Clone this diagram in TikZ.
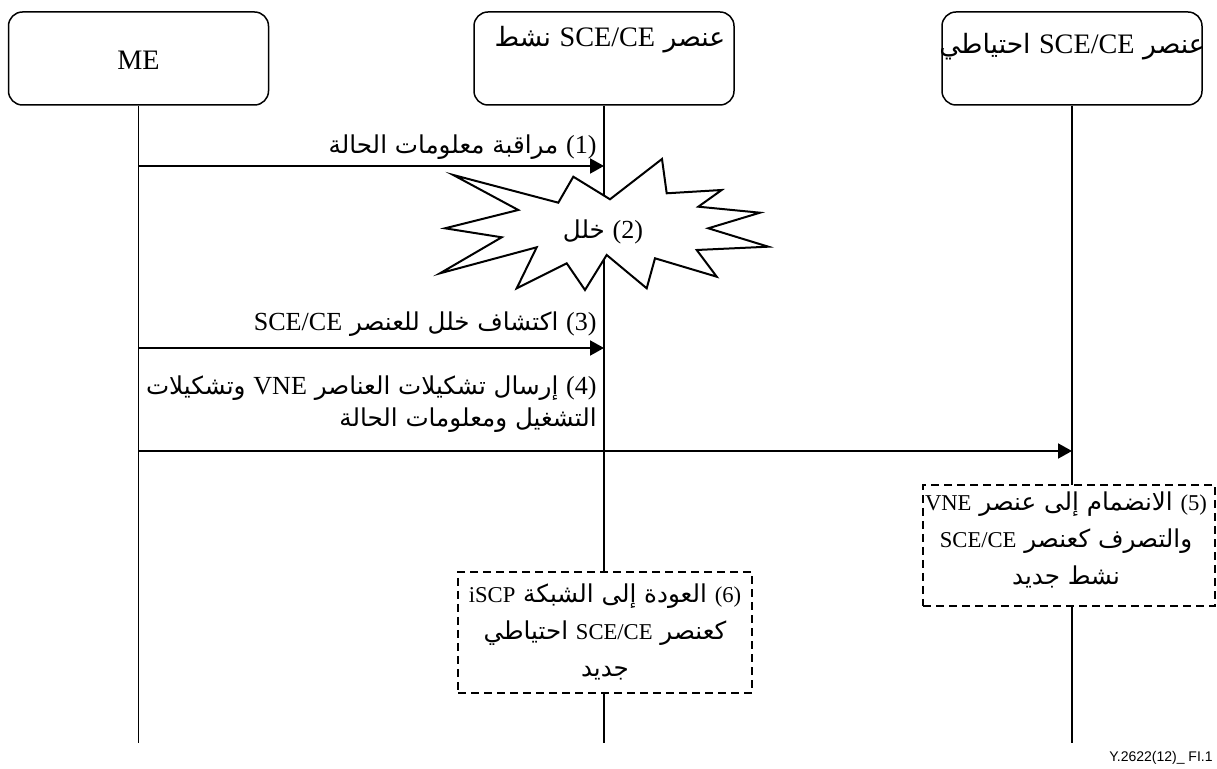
\documentclass[tikz,border=0pt]{standalone}
\usepackage{fontspec}
\setmainfont{Liberation Serif}[Scale=1.06]
\newfontfamily\arabicfont[Script=Arabic]{DejaVu Sans}
\newfontfamily\latinsmall{Liberation Serif}[Scale=0.92]
\newfontfamily\footfont{Liberation Sans}
\TeXXeTstate=1
\usetikzlibrary{arrows.meta}
% Latin family used for runs inside Arabic lines (switched per style)
\newcommand{\curlatin}{\rmfamily}
% left-to-right Latin run inside Arabic text
\newcommand{\ltr}[1]{\beginL{\curlatin #1}\endL{}}
% one right-to-left Arabic line
\newcommand{\rtl}[1]{\mbox{\arabicfont\beginR #1\endR}}

\begin{document}
\begin{tikzpicture}[x=0.5pt,y=-0.5pt,
  hdr/.style={draw, line width=0.75pt, rounded corners=7pt, minimum width=130pt,
              minimum height=46.5pt, inner sep=0pt, fill=white},
  hfont/.style={font=\fontsize{13.3}{16}\selectfont, inner sep=0pt},
  lab/.style={font=\fontsize{12.3}{16}\selectfont, inner sep=0pt, align=right},
  boxtext/.style={font=\fontsize{12.3}{18.5}\selectfont\let\curlatin\latinsmall,
                  inner sep=0pt, align=center},
  life/.style={line width=0.65pt},
  msg/.style={line width=1pt, -{Triangle[length=7pt,width=7.5pt]}},
  note/.style={draw, dashed, dash pattern=on 4pt off 2.5pt, line width=0.75pt,
               fill=white, inner sep=0pt, minimum width=146pt, minimum height=60.5pt},
]
\useasboundingbox (0,0) rectangle (1217,769);

% participants
\node[hdr] (me)  at (138.5,58.5) {};
\node[hdr] (act) at (604,58.5) {};
\node[hdr] (sby) at (1072,58.5) {};

% lifelines
\coordinate (meE)  at (138.5,743);
\coordinate (actE) at (604,743);
\coordinate (sbyE) at (1072,743);
\draw[life] (me.south) -- (meE);
\draw[life] (act.south) -- (actE);
\draw[life] (sby.south) -- (sbyE);

% participant names
\node[hfont] (meT)  at (138.5,60) {ME};
\node[hfont] (actT) at (610,40) {\rtl{عنصر \ltr{SCE/CE} نشط}};
\node[hfont] (sbyT) at (1072,47) {\rtl{عنصر \ltr{SCE/CE} احتياطي}};

% (1) status monitoring
\coordinate (m1) at (138.5,166);
\coordinate (a1) at (604,166);
\draw[msg] (m1) -- (a1);
\node[lab, anchor=east] (l1) at (597,147) {\rtl{\ltr{(1)} مراقبة معلومات الحالة}};

% (2) failure burst on the active element
\draw[line width=1pt, fill=white, line join=miter]
  (453.3,175) -- (558.3,202.7) -- (573.3,176.7) -- (610,199.3) -- (662,159)
  -- (666.7,193.3) -- (721.7,190) -- (698.3,206.7) -- (760,212.7) -- (708.3,228.3)
  -- (768.3,246.7) -- (696.7,250) -- (716.7,276.7) -- (655,258.3) -- (646.7,288.3)
  -- (606.7,255) -- (585,290) -- (566.7,263.3) -- (516.7,288.3) -- (536.7,247.3)
  -- (440,273.3) -- (501.7,237.3) -- (445,228.3) -- (518.3,210) -- cycle;
\node[lab] (l2) at (603,232) {\rtl{\ltr{(2)} خلل}};

% (3) failure detection
\coordinate (m3) at (138.5,348);
\coordinate (a3) at (604,348);
\draw[msg] (m3) -- (a3);
\node[lab, anchor=east] (l3) at (597,324) {\rtl{\ltr{(3)} اكتشاف خلل للعنصر \ltr{SCE/CE}}};

% (4) configuration transfer to the standby element
\coordinate (m4) at (138.5,451);
\coordinate (s4) at (1072,451);
\draw[msg] (m4) -- (s4);
\node[lab, anchor=east] (l4) at (597,404)
  {\rtl{\ltr{(4)} إرسال تشكيلات العناصر \ltr{VNE} وتشكيلات}\\
   \rtl{التشغيل ومعلومات الحالة}};

% (5) standby takes over
\node[note] (n5) at (1069,545.5) {};
\node[boxtext] (t5) at (1066,540)
  {\rtl{\ltr{(5)} الانضمام إلى عنصر \ltr{VNE}}\\
   \rtl{والتصرف كعنصر \ltr{SCE/CE}}\\
   \rtl{نشط جديد}};

% (6) old active element rejoins as standby
\node[note, minimum width=147pt] (n6) at (605,632.5) {};
\node[boxtext] (t6) at (605,632)
  {\rtl{\ltr{(6)} العودة إلى الشبكة \ltr{iSCP}}\\
   \rtl{كعنصر \ltr{SCE/CE} احتياطي}\\
   \rtl{جديد}};

% figure reference
\node[anchor=east, inner sep=0pt, font=\footfont\fontsize{7}{8}\selectfont] (fig) at (1213,758)
  {Y.2622(12)\_ FI.1};
\end{tikzpicture}
\end{document}
